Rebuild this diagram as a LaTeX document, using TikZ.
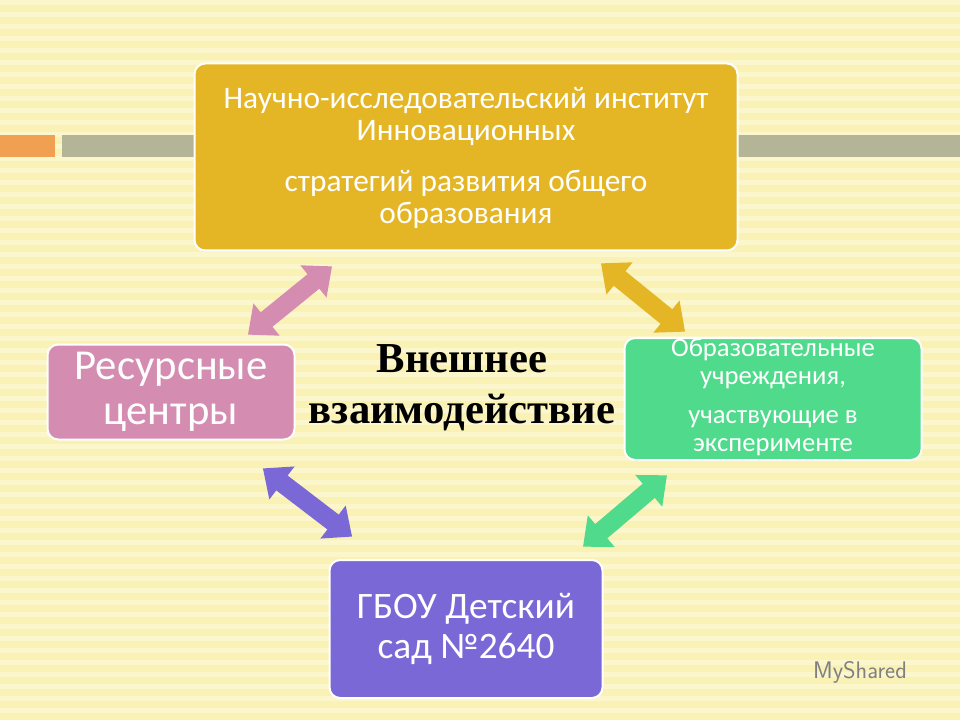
\documentclass[tikz,border=0pt]{standalone}
\usepackage{fontspec}
\setmainfont{Carlito}
\newfontfamily\serifb{Liberation Serif}
\usetikzlibrary{arrows.meta}
\definecolor{bgy}{HTML}{FAF1B4}
\definecolor{bgl}{HTML}{FCF6CC}
\definecolor{gold}{HTML}{E4B626}
\definecolor{pinkb}{HTML}{D48CB0}
\definecolor{greenb}{HTML}{50DA8C}
\definecolor{purpb}{HTML}{7A68D6}
\definecolor{grayb}{HTML}{B4B596}
\definecolor{orangeb}{HTML}{F0A050}
\tikzset{
 box/.style={draw=white,line width=1.5pt,rounded corners=8pt,text=white,align=center,inner sep=0pt},
 dbl/.style={line width=14pt,{Triangle[width=30pt,length=18pt]}-{Triangle[width=30pt,length=18pt]},shorten <=-2pt,shorten >=-2pt}
}
\begin{document}
\begin{tikzpicture}[x=0.75pt,y=-0.75pt]
\useasboundingbox (0,0) rectangle (960,720);
\fill[bgy] (0,0) rectangle (960,720);
\foreach \i in {0,...,60} \fill[bgl] (0,{\i*12}) rectangle (960,{\i*12+5});
\fill[orangeb] (0,135) rectangle (55,157);
\fill[grayb] (62,135) rectangle (960,157);
\node[box,fill=gold,minimum width=543*0.75pt,minimum height=187*0.75pt] (top) at (466,157) {};
\node[text=white,font=\fontsize{23.5}{24}\selectfont,align=center] at (466,116) {Научно-исследовательский институт\\Инновационных};
\node[text=white,font=\fontsize{23.5}{24}\selectfont,align=center] at (466,199) {стратегий развития общего\\образования};
\node[box,fill=pinkb,minimum width=247*0.75pt,minimum height=95*0.75pt,font=\fontsize{32}{34}\selectfont] (res) at (171,392) {Ресурсные\\центры};
\node[box,fill=greenb,minimum width=297*0.75pt,minimum height=122*0.75pt] (edu) at (773,399) {};
\node[text=white,font=\fontsize{20}{21}\selectfont,align=center] at (773,364) {Образовательные\\учреждения,};
\node[text=white,font=\fontsize{20}{21}\selectfont,align=center] at (773,433) {участвующие в\\эксперименте};
\node[box,fill=purpb,minimum width=273*0.75pt,minimum height=138*0.75pt,font=\fontsize{28}{30}\selectfont] (gbou) at (466,629) {ГБОУ Детский\\сад №2640};
\node[font=\serifb\bfseries\fontsize{32}{38}\selectfont,align=center] (mid) at (462,388) {Внешнее\\взаимодействие};
\coordinate (a1) at (250,333); \coordinate (a2) at (330,268);
\coordinate (b1) at (603,265); \coordinate (b2) at (683,330);
\coordinate (c1) at (265,470); \coordinate (c2) at (350,535);
\coordinate (d1) at (665,477); \coordinate (d2) at (585,545);
\draw[dbl,pinkb] (a1) -- (a2);
\draw[dbl,gold] (b1) -- (b2);
\draw[dbl,purpb] (c1) -- (c2);
\draw[dbl,greenb] (d1) -- (d2);
\node[text=gray,font=\sffamily\fontsize{18}{20}\selectfont] (ms) at (860,672) {MyShared};
\end{tikzpicture}
\end{document}
